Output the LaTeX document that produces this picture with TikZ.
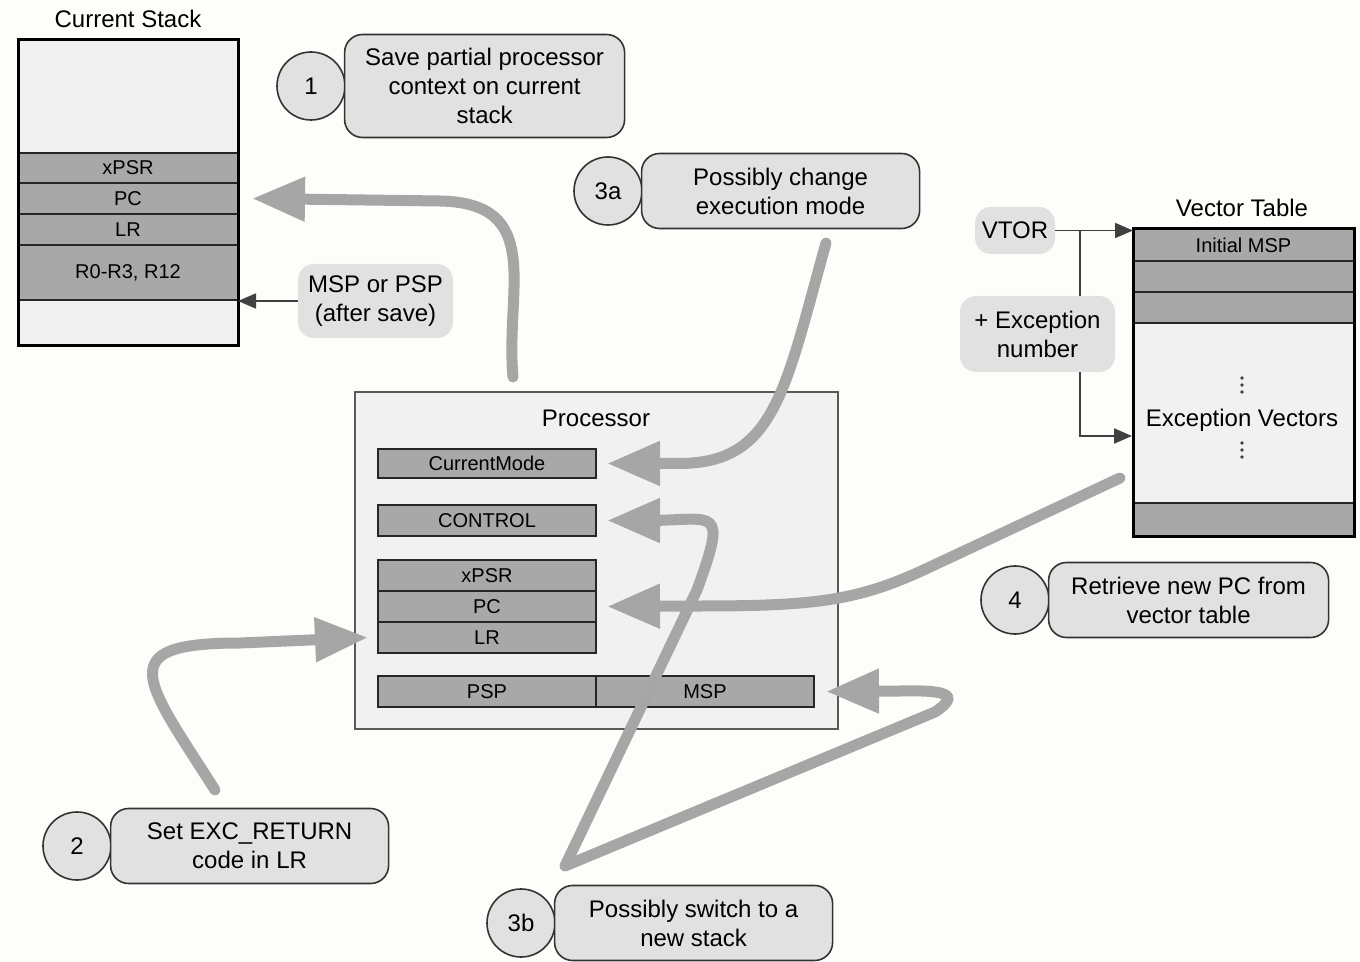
\documentclass[tikz,border=0pt]{standalone}
\usepackage{fontspec}
\setmainfont{Liberation Sans}
\usetikzlibrary{positioning, arrows.meta}

\definecolor{paper}{HTML}{FDFDFA}
\definecolor{regfill}{HTML}{A8A8A8}
\definecolor{panefill}{HTML}{F1F1F1}
\definecolor{callfill}{HTML}{E1E1E1}
\definecolor{flowgray}{HTML}{A6A6A6}

\tikzset{
  reg/.style={draw=black!85, line width=1.1pt, fill=regfill, minimum width=109pt,
    minimum height=15.5pt, inner sep=0pt, outer sep=0pt, font=\fontsize{10}{12}\selectfont},
  pane/.style={fill=panefill, inner sep=0pt, outer sep=0pt},
  boxframe/.style={draw=black, line width=1.5pt},
  procbox/.style={draw=black!65, line width=0.9pt, fill=panefill, inner sep=0pt},
  stepnum/.style={circle, draw=black!80, line width=0.8pt, fill=callfill,
    minimum size=34pt, inner sep=0pt},
  callout/.style={rounded corners=9pt, draw=black!80, line width=0.8pt, fill=callfill,
    align=center, inner sep=0pt, minimum width=139pt, minimum height=37.5pt},
  tag/.style={rounded corners=8pt, fill=callfill, align=center, inner sep=0pt},
  flow/.style={draw=flowgray, line width=5.5pt, line cap=round,
    -{Triangle[length=26.5pt,width=21pt]}},
  ptr/.style={draw=black!75, line width=0.9pt, -{Triangle[length=9pt,width=7.5pt]}},
  wire/.style={draw=black!75, line width=0.9pt},
}

\begin{document}
\begin{tikzpicture}[x=0.5pt, y=-0.5pt, font=\fontsize{12}{14.5}\selectfont]
\fill[paper] (0,0) rectangle (1360,962);
\useasboundingbox (0,0) rectangle (1360,962);

% current stack
\node (stacktitle) at (128,19) {Current Stack};
\node[pane, minimum width=110pt, minimum height=153pt] (stack) at (128,193) {};
\node[reg, minimum width=110pt, minimum height=15pt] (xpsrS) at (128,168) {xPSR};
\node[reg, minimum width=110pt, below=0pt of xpsrS] (pcS) {PC};
\node[reg, minimum width=110pt, below=0pt of pcS] (lrS) {LR};
\node[reg, minimum width=110pt, minimum height=27.5pt, below=0pt of lrS] (regsS) {R0-R3, R12};
\draw[boxframe] (stack.north west) rectangle (stack.south east);

% processor
\node[procbox, minimum width=241.5pt, minimum height=168.5pt] (proc) at (596.5,560.5) {};
\node (proctitle) at (596,418) {Processor};
\node[reg, minimum height=14.5pt] (cmode) at (487,463.5) {CurrentMode};
\node[reg] (ctrl) at (487,520.5) {CONTROL};
\node[reg] (xpsrP) at (487,575.5) {xPSR};
\node[reg, below=0pt of xpsrP] (pcP) {PC};
\node[reg, below=0pt of pcP] (lrP) {LR};
\node[reg] (psp) at (487,691.5) {PSP};
\node[reg, right=0pt of psp] (msp) {MSP};

% vector table
\node (vttitle) at (1242,208) {Vector Table};
\node[pane, minimum width=110.5pt, minimum height=153.5pt] (vt) at (1243.5,382.5) {};
\node[reg, minimum width=110.5pt, minimum height=16pt] (imsp) at (1243.5,245) {Initial MSP};
\node[reg, minimum width=110.5pt, below=0pt of imsp] (vtA) {};
\node[reg, minimum width=110.5pt, below=0pt of vtA] (vtB) {};
\node[reg, minimum width=110.5pt, minimum height=16.5pt, anchor=south] (vtend) at (vt.south) {};
\node[inner sep=1pt] (vecs) at (1242,420) {Exception Vectors};
\foreach \y in {378,385,392,443,450,457}
  \fill[black!75] (1242,\y) circle (0.9pt);
\draw[boxframe] (vt.north west) rectangle (vt.south east);

% vtor wiring
\node[tag, minimum width=40pt, minimum height=23.5pt] (vtor) at (1015,230.5) {VTOR};
\node[tag, minimum width=77.5pt, minimum height=38pt] (excnum) at (1037.5,334) {+ Exception\\number};
\coordinate (tap) at (1080,230.5);
\coordinate (vecin) at (1132,436);
\draw[ptr] (vtor.east) -- (vtor.east -| vt.west);
\draw[wire] (tap) -- (tap |- excnum.north);
\draw[ptr] (tap |- excnum.south) |- (vecin);

\node[tag, minimum width=77.5pt, minimum height=37pt] (sptag) at (375.5,301) {MSP or PSP\\(after save)};
\draw[ptr] (sptag.west) -- (sptag.west -| stack.east);

% steps
\node[stepnum] (n1) at (311,86) {1};
\node[callout, right=-1pt of n1, minimum width=140pt, minimum height=51.5pt] (c1) {Save partial processor\\context on current\\stack};
\node[stepnum] (n3a) at (608,191) {3a};
\node[callout, right=-1pt of n3a] (c3a) {Possibly change\\execution mode};
\node[stepnum] (n4) at (1015,600) {4};
\node[callout, right=-1pt of n4, minimum width=140pt] (c4) {Retrieve new PC from\\vector table};
\node[stepnum] (n2) at (77,846) {2};
\node[callout, right=-1pt of n2] (c2) {Set EXC\_RETURN\\code in LR};
\node[stepnum] (n3b) at (521,923) {3b};
\node[callout, right=-1pt of n3b] (c3b) {Possibly switch to a\\new stack};

% flow arrows
\coordinate (f1) at (513,377);
\coordinate (f3a) at (826,243);
\coordinate (f3b) at (565,866);
\coordinate (f4) at (1120,478);
\coordinate (f2) at (215,790);
\draw[flow] (f1) .. controls (505,290) and (545,203) .. (440,201) -- ([xshift=7pt]pcS.east);
\draw[flow] (f3a) .. controls (785,390) and (775,463) .. (680,463.5) -- ([xshift=5.5pt]cmode.east);
\draw[flow] (f3b) -- (697,590) .. controls (728,505) and (715,520) .. (650,520.5) -- ([xshift=5.5pt]ctrl.east);
\draw[flow] (f3b) -- (935,712) .. controls (962,694) and (945,690) .. (900,691) -- ([xshift=6pt]msp.east);
\draw[flow] (f4) -- (930,567) .. controls (860,600) and (820,606) .. (700,606) -- ([xshift=5.5pt]pcP.east);
\draw[flow] (f2) .. controls (145,680) and (110,643) .. (240,643) -- ([xshift=-5pt]lrP.west);
\end{tikzpicture}
\end{document}
